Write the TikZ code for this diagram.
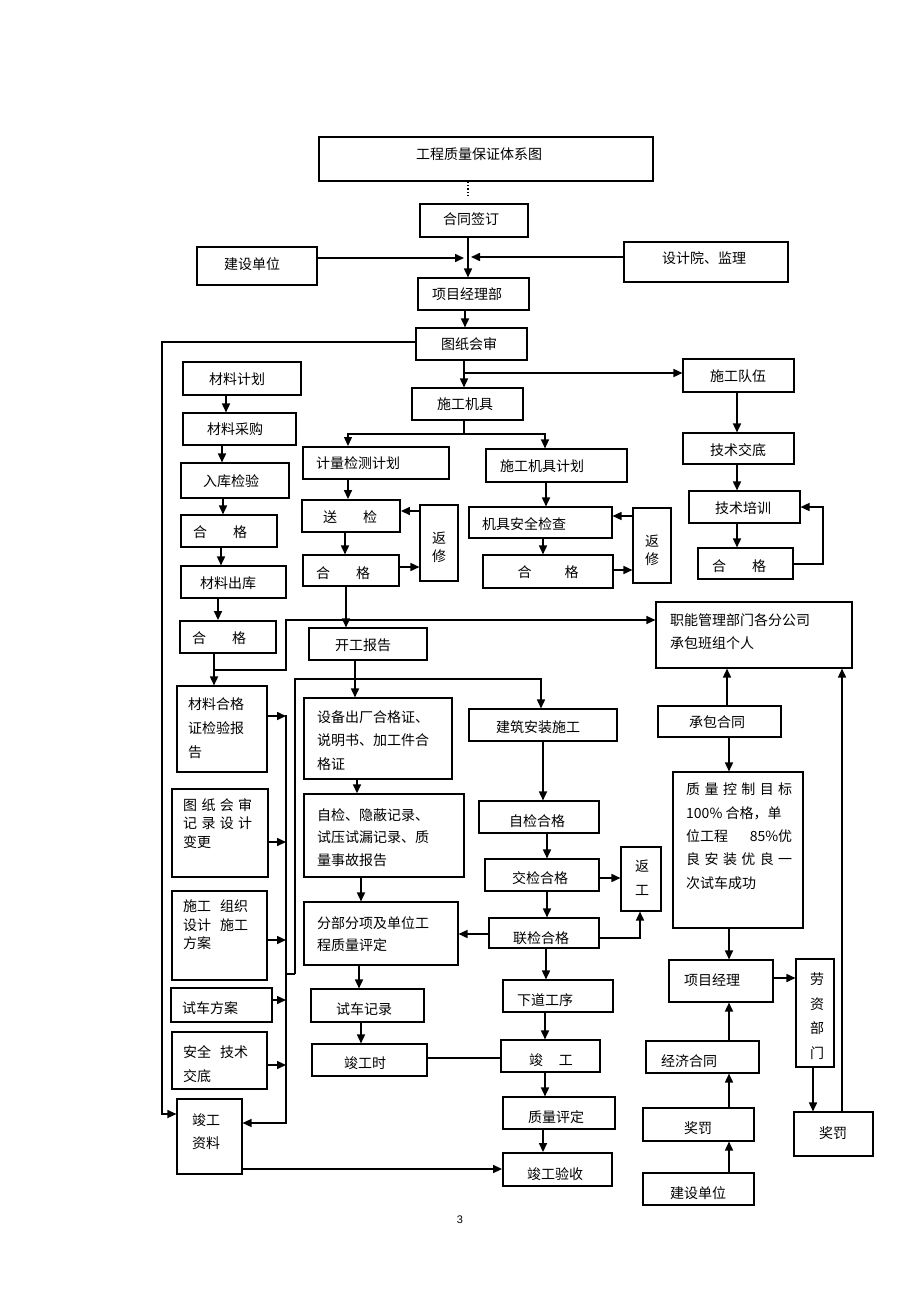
\documentclass[tikz,border=0pt]{standalone}
\usepackage{fontspec}
\setmainfont{Liberation Sans}
\newfontfamily\cjk{Noto Sans CJK SC}
\usetikzlibrary{arrows.meta}
\tikzset{
  box/.style={draw, line width=1.1pt, inner sep=0pt},
  thk/.style={line width=1.9pt},
  txt/.style={inner sep=0pt, align=center, font=\cjk\fontsize{14}{18}\selectfont},
  mtxt/.style={inner sep=0pt, anchor=north west, align=left},
  arr/.style={line width=1.6pt, -{Triangle[length=9pt,width=8pt]}},
  ln/.style={line width=1.6pt},
  thn/.style={line width=1.1pt},
}
\newcommand\qbox[9][]{%
  \pgfmathsetmacro\qbw{#5-#3}%
  \pgfmathsetmacro\qbh{#6-#4}%
  \node[box,minimum width=\qbw pt,minimum height=\qbh pt,#1] (#2) at ({(#3+#5)/2},{(#4+#6)/2}) {};
  \node[txt] (#2-t) at (#7,#8) {#9};}
\newcommand\qframe[6][]{%
  \pgfmathsetmacro\qbw{#5-#3}%
  \pgfmathsetmacro\qbh{#6-#4}%
  \node[box,minimum width=\qbw pt,minimum height=\qbh pt,#1] (#2) at ({(#3+#5)/2},{(#4+#6)/2}) {};}
\begin{document}
\begin{tikzpicture}[x=1pt,y=-1pt]
\useasboundingbox (0,0) rectangle (920,1303);
% ---------- top ----------
\qbox[line width=1.3pt]{title}{319}{137}{653}{181}{479}{154}{工程质量保证体系图}
\qbox[thk]{htqd}{420}{204}{528}{237}{471}{219}{合同签订}
\qbox{jsdwA}{197}{247}{317}{285}{252}{264}{建设单位}
\qbox{sjy}{624}{242}{788}{282}{704}{258}{设计院、监理}
\qbox{xmjlb}{418}{278}{529}{310}{467}{294}{项目经理部}
\qbox{tzhs}{416}{328}{527}{360}{469}{344}{图纸会审}
\qbox{sgjj}{412}{388}{523}{420}{465}{404}{施工机具}
\qbox{sgdw}{683}{359}{794}{392}{738}{376}{施工队伍}
% ---------- left column ----------
\qbox{cljh}{183}{362}{301}{395}{237}{379}{材料计划}
\qbox{clcg}{183}{413}{296}{445}{235}{429}{材料采购}
\qbox{rkjy}{181}{463}{289}{498}{231}{481}{入库检验}
\qbox{hgA}{181}{515}{277}{547}{220}{532}{合\hspace{26pt}格}
\qbox{clck}{181}{566}{286}{598}{228}{583}{材料出库}
\qbox[thk]{hgB}{180}{621}{276}{653}{219}{638}{合\hspace{26pt}格}
% ---------- metering ----------
\qbox[thk]{jljc}{303}{447}{449}{479}{358}{463}{计量检测计划}
\qbox[thk]{sj}{302}{500}{400}{532}{350}{517}{送\hspace{26pt}检}
\qbox{fxA}{420}{505}{458}{581}{439}{547}{返\\修}
\qbox{hgC}{303}{555}{399}{586}{343}{573}{合\hspace{26pt}格}
\qbox{kgbg}{309}{628}{427}{660}{363}{645}{开工报告}
% ---------- machines ----------
\qbox{jjjh}{486}{449}{627}{482}{542}{466}{施工机具计划}
\qbox{jjaq}{469}{507}{612}{538}{524}{524}{机具安全检查}
\qbox{hgD}{483}{555}{613}{588}{548}{572}{合\hspace{33pt}格}
\qbox{fxB}{633}{508}{671}{583}{652}{550}{返\\修}
% ---------- team ----------
\qbox{jsjd}{683}{433}{794}{464}{738}{450}{技术交底}
\qbox{jspx}{689}{491}{800}{523}{743}{508}{技术培训}
\qbox{hgE}{698}{548}{793}{579}{739}{566}{合\hspace{26pt}格}
\qframe{znbm}{656}{602}{852}{668}
\node[mtxt, font=\cjk\fontsize{14}{23}\selectfont] (znbm-t) at (670,613) {职能管理部门各分公司\\承包班组个人};
% ---------- documents column ----------
\qframe{clhgz}{177}{686}{267}{772}
\node[mtxt, font=\cjk\fontsize{14}{24}\selectfont] (clhgz-t) at (188,697) {材料合格\\证检验报\\告};
\qframe{tzjl}{172}{789}{268}{877}
\node[mtxt, font=\cjk\fontsize{14}{18.5}\selectfont] (tzjl-t) at (183,798) {\makebox[69pt][s]{图\hfill 纸\hfill 会\hfill 审}\\\makebox[69pt][s]{记\hfill 录\hfill 设\hfill 计}\\变更};
\qframe{sgzz}{172}{891}{267}{980}
\node[mtxt, font=\cjk\fontsize{14}{18.5}\selectfont] (sgzz-t) at (183,900) {施工\hspace{9pt}组织\\设计\hspace{9pt}施工\\方案};
\qbox{scfa}{171}{988}{272}{1022}{210}{1008}{试车方案}
\qframe{aqjs}{172}{1032}{267}{1089}
\node[mtxt, font=\cjk\fontsize{14}{24}\selectfont] (aqjs-t) at (183,1045) {安全\hspace{9pt}技术\\交底};
\qframe{jgzl}{177}{1099}{242}{1174}
\node[mtxt, font=\cjk\fontsize{14}{23}\selectfont] (jgzl-t) at (192,1113) {竣工\\资料};
% ---------- middle column ----------
\qframe{sbcc}{304}{698}{452}{779}
\node[mtxt, font=\cjk\fontsize{14}{23.5}\selectfont] (sbcc-t) at (317,710) {设备出厂合格证、\\说明书、加工件合\\格证};
\qframe[line width=1.4pt]{zjyb}{304}{794}{464}{877}
\node[mtxt, font=\cjk\fontsize{14}{22.5}\selectfont] (zjyb-t) at (317,808) {自检、隐蔽记录、\\试压试漏记录、质\\量事故报告};
\qframe{fbfx}{304}{902}{458}{965}
\node[mtxt, font=\cjk\fontsize{14}{22}\selectfont] (fbfx-t) at (317,916) {分部分项及单位工\\程质量评定};
\qbox{scjl}{311}{989}{424}{1022}{364}{1009}{试车记录}
\qbox{jgs}{312}{1044}{427}{1076}{365}{1063}{竣工时}
% ---------- construction column ----------
\qbox{jzaz}{469}{709}{617}{741}{538}{727}{建筑安装施工}
\qbox{zjhg}{479}{801}{599}{833}{537}{821}{自检合格}
\qbox{jjhg}{485}{859}{599}{891}{540}{878}{交检合格}
\qbox{fg}{621}{847}{661}{911}{642}{878}{返\\[6pt]工}
\qbox{ljhg}{489}{918}{599}{948}{541}{938}{联检合格}
\qbox{xdgx}{503}{980}{613}{1012}{545}{1000}{下道工序}
\qbox{jg}{501}{1040}{600}{1072}{551}{1060}{竣\hspace{16pt}工}
\qbox{zlpd}{503}{1097}{615}{1129}{556}{1117}{质量评定}
\qbox[thk]{jgys}{503}{1153}{612}{1186}{555}{1174}{竣工验收}
% ---------- right column ----------
\qbox{cbht}{658}{706}{781}{737}{717}{722}{承包合同}
\qframe{zlkz}{673}{772}{803}{928}
\node[mtxt, font=\cjk\fontsize{14}{23.3}\selectfont] (zlkz-t) at (686,783) {\makebox[106pt][s]{质\hfill 量\hfill 控\hfill 制\hfill 目\hfill 标}\\100\% 合格，单\\\makebox[106pt][s]{位工程\hfill 85\%优}\\\makebox[106pt][s]{良\hfill 安\hfill 装\hfill 优\hfill 良\hfill 一}\\次试车成功};
\qbox{xmjl}{669}{960}{773}{1002}{712}{980}{项目经理}
\qbox{lzbm}{796}{959}{834}{1067}{817}{1016}{劳\\[6.5pt]资\\[6.5pt]部\\[6.5pt]门}
\qbox{jjht}{646}{1041}{759}{1073}{689}{1061}{经济合同}
\qbox{jfA}{643}{1108}{754}{1141}{698}{1128}{奖罚}
\qbox{jsdwB}{643}{1173}{754}{1205}{698}{1193}{建设单位}
\qbox{jfB}{794}{1112}{873}{1156}{833}{1133}{奖罚}
\node[inner sep=0pt, font=\fontsize{11}{13}\selectfont] (pg) at (460,1220) {3};
% ================= connectors =================
\draw[dotted, line width=1.3pt, shorten >=6pt] (title.south -| 468,0) -- (htqd.north -| 468,0);
\coordinate (jA) at (464,258);
\coordinate (jB) at (471,257);
\draw[arr] (jsdwA.east |- jA) -- (jA);
\draw[arr] (sjy.west |- jB) -- (jB);
\draw[arr] (htqd.south -| 468,0) -- (xmjlb.north -| 468,0);
\draw[arr] (xmjlb.south -| 465,0) -- (tzhs.north -| 465,0);
\coordinate (cL) at (162,1114);
\draw[arr, thn] (tzhs.west |- 0,342) -| (cL) -- (jgzl.west |- cL);
\coordinate (b1) at (464,373);
\draw[arr] (tzhs.south -| b1) -- (sgjj.north -| b1);
\draw[arr] (b1) -- (sgdw.west |- b1);
\draw[arr] (sgdw.south -| 737,0) -- (jsjd.north -| 737,0);
\draw[arr] (jsjd.south -| 737,0) -- (jspx.north -| 737,0);
\draw[arr] (jspx.south -| 737,0) -- (hgE.north -| 737,0);
\coordinate (lp) at (823,507);
\draw[arr] (hgE.east |- 0,564) -| (lp) -- (jspx.east |- lp);
\coordinate (b2) at (464,434);
\draw[ln] (sgjj.south -| b2) -- (b2);
\draw[arr, thn] (b2) -| (jljc.north -| 348,0);
\draw[arr, thn] (b2) -| (jjjh.north -| 545,0);
\draw[arr] (jljc.south -| 348,0) -- (sj.north -| 348,0);
\draw[arr] (sj.south -| 345,0) -- (hgC.north -| 345,0);
\draw[arr] (fxA.west |- 0,511) -- (sj.east |- 0,511);
\draw[arr] (hgC.east |- 0,567) -- (fxA.west |- 0,567);
\draw[arr] (hgC.south -| 346,0) -- (kgbg.north -| 346,0);
\draw[arr] (jjjh.south -| 546,0) -- (jjaq.north -| 546,0);
\draw[arr] (jjaq.south -| 543,0) -- (hgD.north -| 543,0);
\draw[arr] (fxB.west |- 0,516) -- (jjaq.east |- 0,516);
\draw[arr] (hgD.east |- 0,570) -- (fxB.west |- 0,570);
% left column
\draw[arr] (cljh.south -| 226,0) -- (clcg.north -| 226,0);
\draw[arr] (clcg.south -| 222,0) -- (rkjy.north -| 222,0);
\draw[arr] (rkjy.south -| 223,0) -- (hgA.north -| 223,0);
\draw[arr] (hgA.south -| 221,0) -- (clck.north -| 221,0);
\draw[arr] (clck.south -| 218,0) -- (hgB.north -| 218,0);
\coordinate (j3) at (214,670);
\coordinate (k1) at (286,620);
\draw[arr] (hgB.south -| j3) -- (clhgz.north -| j3);
\draw[arr, thn] (j3) -| (k1) -- (znbm.west |- k1);
% collecting line
\coordinate (c1) at (286,715);
\coordinate (c2) at (286,1123);
\draw[arr, line width=1.3pt] (c1) -- (c2) -- (jgzl.east |- c2);
\foreach \yy/\nn in {716/clhgz, 842/tzjl, 940/sgzz, 1000/scfa, 1065/aqjs}
  \draw[arr] (\nn.east |- 0,\yy) -- (c1 |- 0,\yy);
\coordinate (k2) at (355,679);
\coordinate (k3) at (295,974);
\draw[arr] (kgbg.south -| k2) -- (sbcc.north -| k2);
\draw[arr] (k3) |- (k2) -| (jzaz.north -| 541,0);
\draw[ln] (k3) -- (c1 |- k3);
% middle column
\draw[arr] (sbcc.south -| 357,0) -- (zjyb.north -| 357,0);
\draw[arr] (zjyb.south -| 361,0) -- (fbfx.north -| 361,0);
\draw[arr] (fbfx.south -| 359,0) -- (scjl.north -| 359,0);
\draw[arr] (scjl.south -| 361,0) -- (jgs.north -| 361,0);
\draw[thn] (jgs.east |- 0,1058) -- (jg.west |- 0,1058);
% construction column
\draw[arr] (jzaz.south -| 543,0) -- (zjhg.north -| 543,0);
\draw[arr] (zjhg.south -| 547,0) -- (jjhg.north -| 547,0);
\draw[arr] (jjhg.east |- 0,878) -- (fg.west |- 0,878);
\draw[arr] (jjhg.south -| 547,0) -- (ljhg.north -| 547,0);
\draw[arr] (ljhg.east |- 0,938) -| (fg.south -| 640,0);
\draw[arr] (ljhg.west |- 0,934) -- (fbfx.east |- 0,934);
\draw[arr] (ljhg.south -| 546,0) -- (xdgx.north -| 546,0);
\draw[arr] (xdgx.south -| 545,0) -- (jg.north -| 545,0);
\draw[arr] (jg.south -| 545,0) -- (zlpd.north -| 545,0);
\draw[arr] (zlpd.south -| 543,0) -- (jgys.north -| 543,0);
\draw[arr] (jgzl.east |- 0,1169) -- (jgys.west |- 0,1169);
% right column
\draw[arr] (cbht.north -| 727,0) -- (znbm.south -| 727,0);
\draw[arr] (cbht.south -| 729,0) -- (zlkz.north -| 729,0);
\draw[arr] (zlkz.south -| 729,0) -- (xmjl.north -| 729,0);
\draw[arr] (xmjl.east |- 0,978) -- (lzbm.west |- 0,978);
\draw[arr] (lzbm.south -| 813,0) -- (jfB.north -| 813,0);
\draw[arr] (jfB.north -| 842,0) -- (znbm.south -| 842,0);
\draw[arr] (jjht.north -| 729,0) -- (xmjl.south -| 729,0);
\draw[arr] (jfA.north -| 729,0) -- (jjht.south -| 729,0);
\draw[arr] (jsdwB.north -| 729,0) -- (jfA.south -| 729,0);
\end{tikzpicture}
\end{document}
